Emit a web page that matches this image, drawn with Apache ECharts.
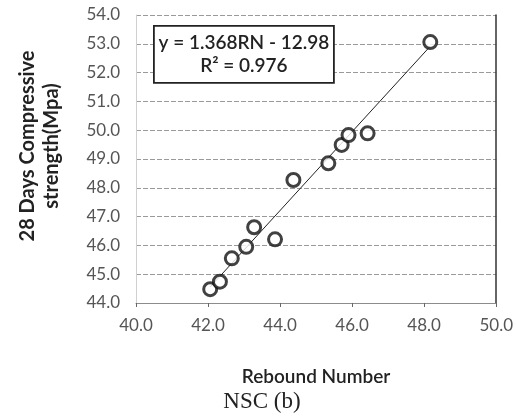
<!DOCTYPE html>
<html>
<head>
<meta charset="utf-8">
<script src="https://cdn.jsdelivr.net/npm/echarts@6/dist/echarts.min.js"></script>
<style>
  html, body { margin: 0; padding: 0; background: #fff; }
  #chart { width: 516px; height: 418px; }
</style>
</head>
<body>
<div id="chart"></div>
<script>
// Rebound number vs 28-day compressive strength, NSC specimens
const reboundNumber = [42.06, 42.33, 42.66, 43.06, 43.28, 43.86, 44.37, 45.34, 45.71, 45.90, 46.43, 48.17];
const strength      = [44.48, 44.74, 45.55, 45.95, 46.63, 46.21, 48.27, 48.85, 49.49, 49.83, 49.89, 53.06];

// Linear trend (as stated in the equation box)
const trendSlope = [1.368];
const trendIntercept = [-12.98];
const rSquared = ['0.976'];

const xTicks = [40, 42, 44, 46, 48, 50];
const yTicks = [44, 45, 46, 47, 48, 49, 50, 51, 52, 53, 54];

const points = reboundNumber.map((x, i) => [x, strength[i]]);
const xMin = Math.min(...reboundNumber), xMax = Math.max(...reboundNumber);
const trend = [xMin, xMax].map(x => [x, trendSlope[0] * x + trendIntercept[0]]);

const chart = echarts.init(document.getElementById('chart'), null, { renderer: 'canvas' });
const labelFont = 'Lato, "Open Sans", sans-serif';

chart.setOption({
  backgroundColor: '#ffffff',
  animation: false,
  grid: { left: 136, right: 19, top: 15, bottom: 115 },
  xAxis: {
    type: 'value',
    min: xTicks[0], max: xTicks[xTicks.length - 1], interval: 2,
    axisLine: { show: true, lineStyle: { color: '#8c8c8c', width: 1 } },
    axisTick: { show: true, length: 4, lineStyle: { color: '#666' } },
    splitLine: { show: false },
    axisLabel: {
      margin: 14, color: '#555', fontSize: 17, fontFamily: labelFont,
      formatter: v => v.toFixed(1)
    }
  },
  yAxis: [{
    type: 'value',
    min: yTicks[0], max: yTicks[yTicks.length - 1], interval: 1,
    axisLine: { show: true, lineStyle: { color: '#d0d0d0', width: 1 } },
    axisTick: { show: false },
    splitLine: { show: true, lineStyle: { color: '#9a9a9a', width: 1, type: [5, 2] } },
    axisLabel: {
      margin: 16, color: '#555', fontSize: 17, fontFamily: labelFont,
      formatter: v => v.toFixed(1)
    }
  }, {
    type: 'value', position: 'right',
    min: yTicks[0], max: yTicks[yTicks.length - 1], interval: 1,
    axisLine: { show: true, lineStyle: { color: '#333', width: 1.5 } },
    axisTick: { show: false }, axisLabel: { show: false }, splitLine: { show: false }
  }],
  series: [{
    type: 'line',
    data: trend,
    symbol: 'none',
    lineStyle: { color: '#222', width: 1 },
    silent: true,
    z: 2
  }, {
    type: 'scatter',
    data: points,
    symbol: 'circle',
    symbolSize: 13,
    itemStyle: { color: '#ffffff', borderColor: '#111', borderWidth: 3 },
    z: 3
  }],
  graphic: [
    {
      type: 'group', left: 153, top: 25, z: 100,
      children: [
        { type: 'rect', z: 100, shape: { x: 0, y: 0, width: 180, height: 57 },
          style: { fill: '#fff', stroke: '#222', lineWidth: 1.8 } },
        { type: 'text', z: 101, x: 90, y: 17,
          style: { text: 'y = ' + trendSlope[0] + 'RN - ' + Math.abs(trendIntercept[0]),
                   fill: '#222', font: '600 19px ' + labelFont, textAlign: 'center', textVerticalAlign: 'middle' } },
        { type: 'text', z: 101, x: 90, y: 40,
          style: { text: 'R² = ' + rSquared[0],
                   fill: '#222', font: '600 19px ' + labelFont, textAlign: 'center', textVerticalAlign: 'middle' } }
      ]
    },
    {
      type: 'text', x: 40, y: 146, rotation: Math.PI / 2,
      style: { text: '28 Days Compressive\nstrength(Mpa)', fill: '#222',
               font: 'bold 20px ' + labelFont, textAlign: 'center', textVerticalAlign: 'middle',
               lineHeight: 24 }
    },
    {
      type: 'text', x: 316, y: 377,
      style: { text: 'Rebound Number', fill: '#222', font: '600 19px ' + labelFont,
               textAlign: 'center', textVerticalAlign: 'middle' }
    },
    {
      type: 'text', x: 262, y: 402,
      style: { text: 'NSC (b)', fill: '#222', font: '23px "Liberation Serif", "DejaVu Serif", serif',
               textAlign: 'center', textVerticalAlign: 'middle' }
    }
  ]
});
</script>
</body>
</html>
